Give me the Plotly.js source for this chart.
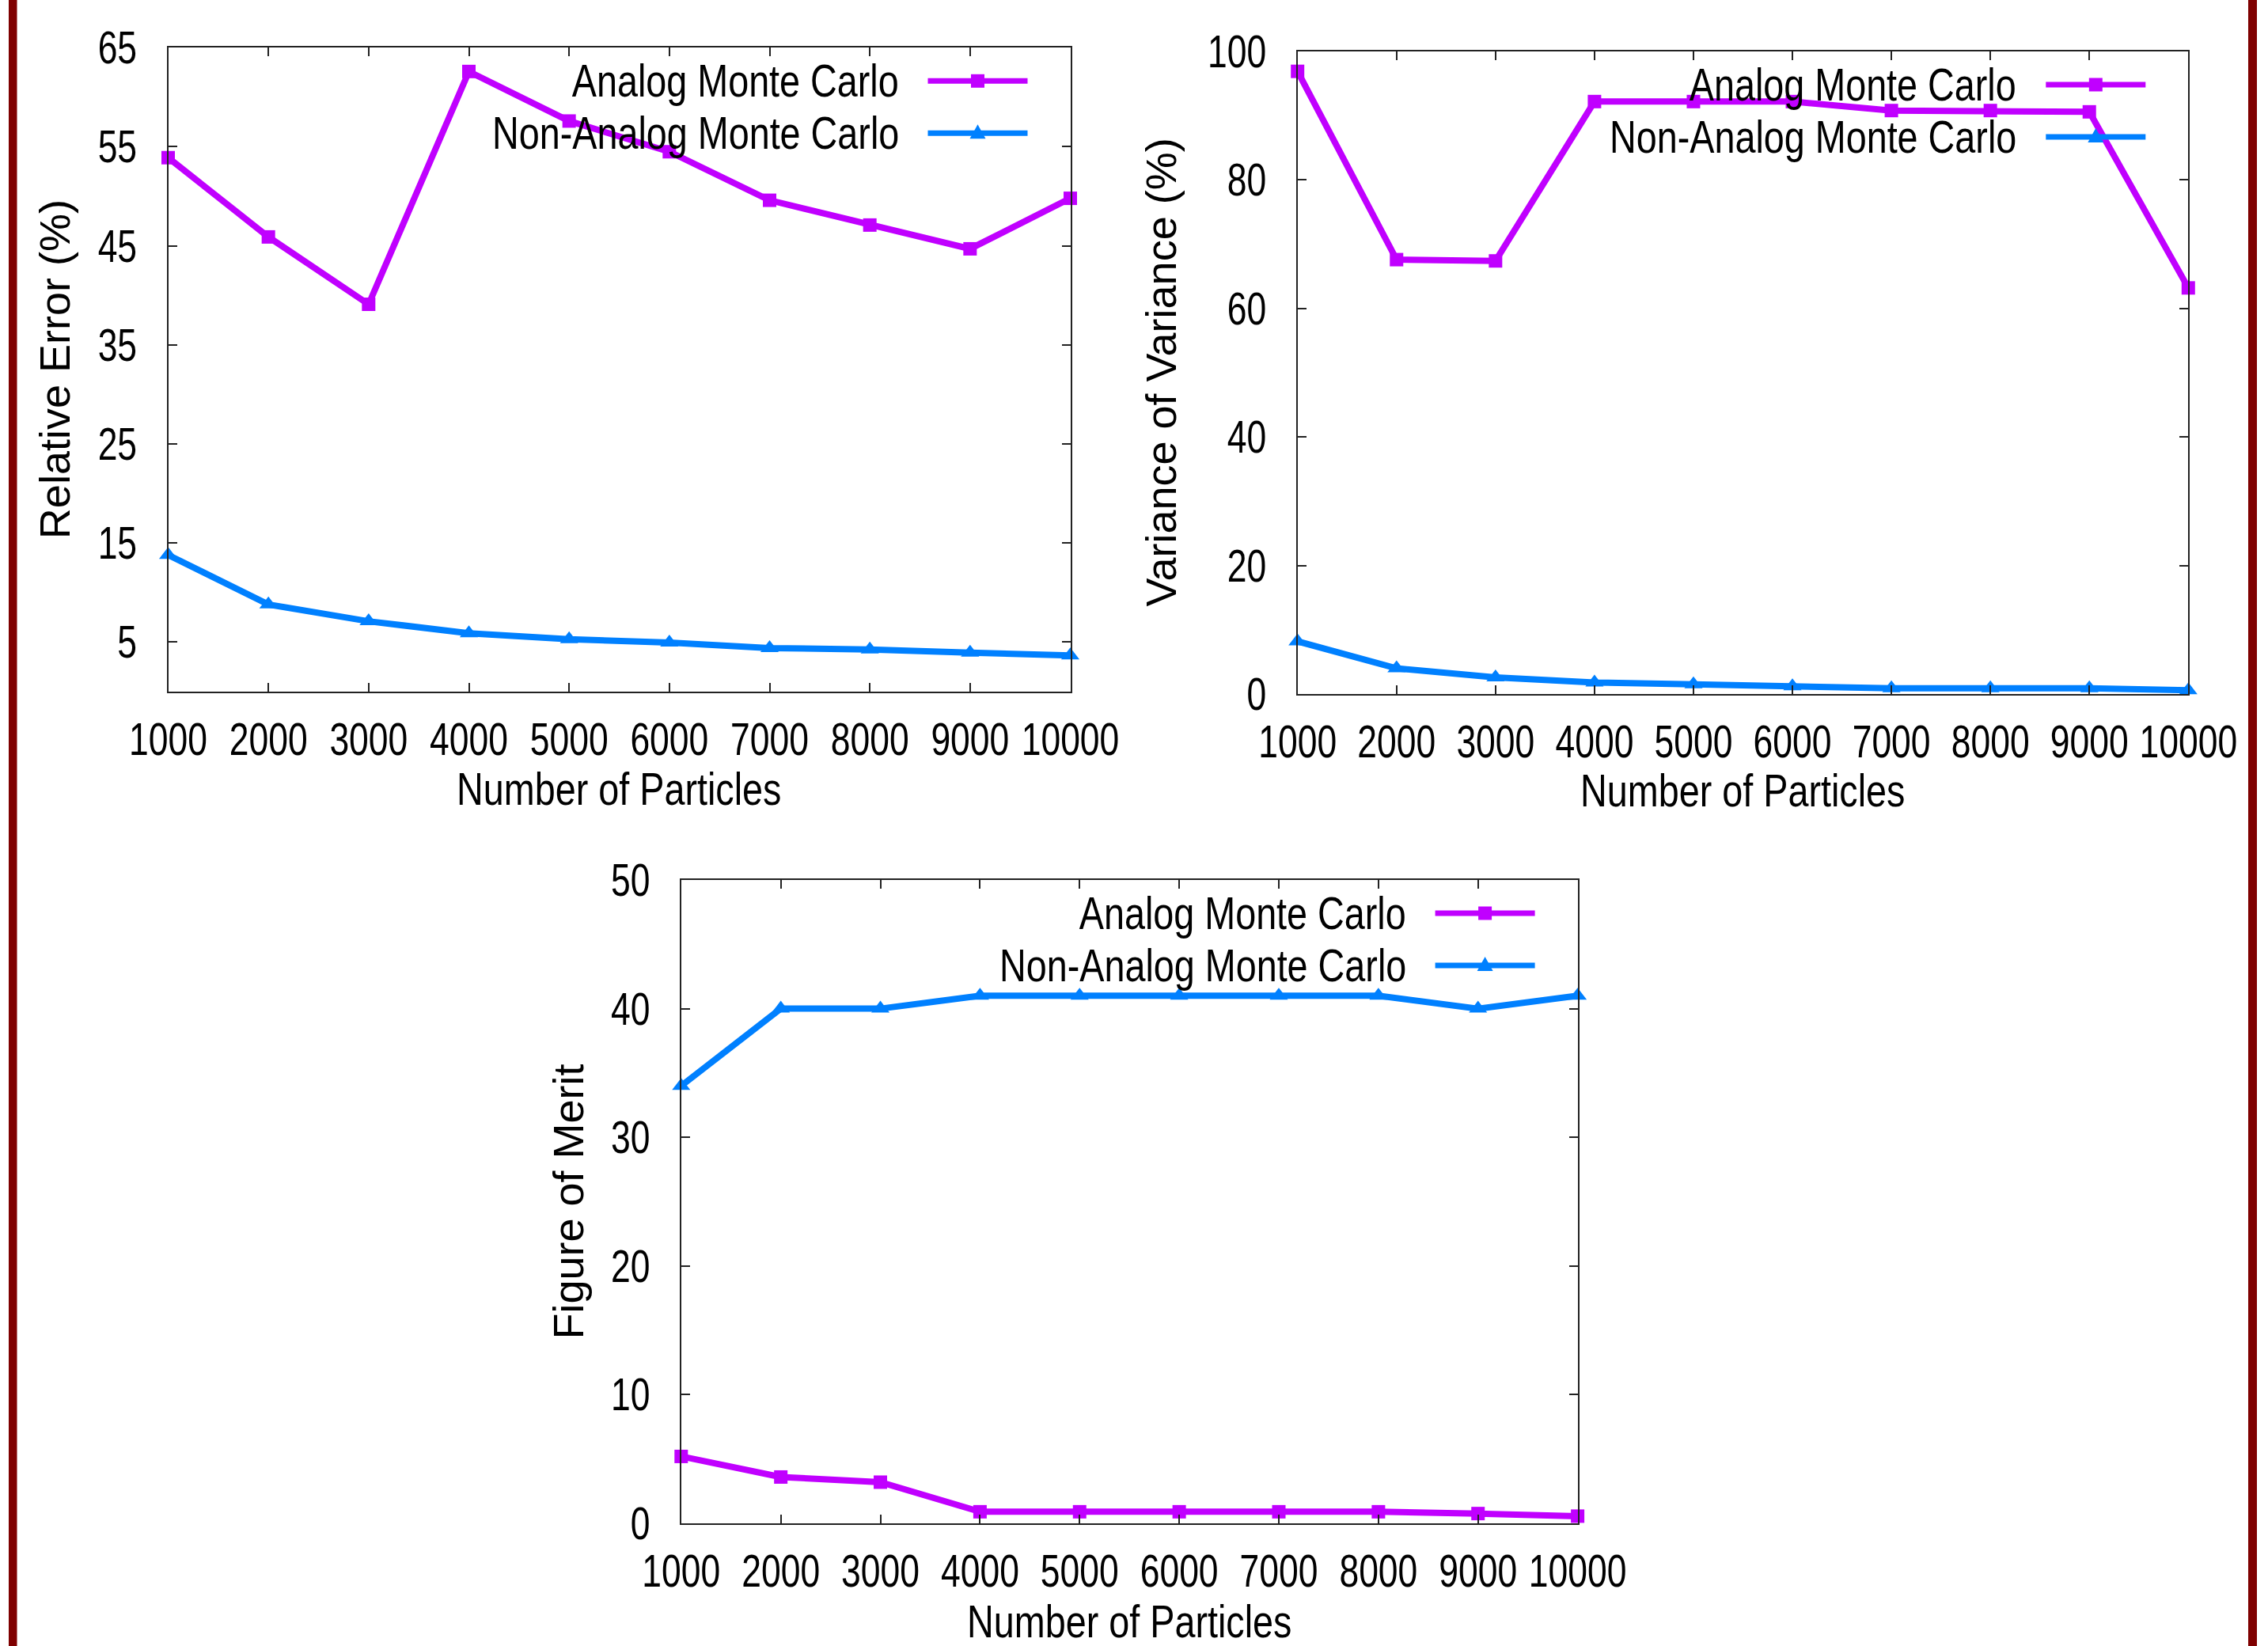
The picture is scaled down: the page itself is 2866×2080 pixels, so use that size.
<!DOCTYPE html>
<html>
<head>
<meta charset="utf-8">
<script src="https://cdn.plot.ly/plotly-3.0.1.min.js"></script>
<style>
html,body{margin:0;padding:0;background:#fff;}
#chart{width:2866px;height:2080px;}
</style>
</head>
<body>
<div id="chart"></div>
<script>
// ---------- data ----------
const particles = [1000, 2000, 3000, 4000, 5000, 6000, 7000, 8000, 9000, 10000];
const xTickLabels = ['1000','2000','3000','4000','5000','6000','7000','8000','9000','10000'];
const seriesNames = ['Analog Monte Carlo', 'Non-Analog Monte Carlo'];

const relErrAnalog    = [53.9, 45.9, 39.1, 62.6, 57.6, 54.5, 49.6, 47.1, 44.7, 49.8];
const relErrNonAnalog = [13.8, 8.8, 7.1, 5.9, 5.3, 4.95, 4.4, 4.25, 3.93, 3.66];

const vovAnalog    = [96.9, 67.6, 67.4, 92.2, 92.2, 92.2, 90.8, 90.8, 90.6, 63.2];
const vovNonAnalog = [8.2, 4.0, 2.6, 1.8, 1.5, 1.2, 0.9, 0.9, 0.9, 0.6];

const fomAnalog    = [5.2, 3.6, 3.2, 0.9, 0.9, 0.9, 0.9, 0.9, 0.76, 0.56];
const fomNonAnalog = [34, 40, 40, 41, 41, 41, 41, 41, 40, 41];

const relErrTicks = [5, 15, 25, 35, 45, 55, 65];
const vovTicks    = [0, 20, 40, 60, 80, 100];
const fomTicks    = [0, 10, 20, 30, 40, 50];

const yTitles = ['Relative Error (%)', 'Variance of Variance (%)', 'Figure of Merit'];
const xTitle = 'Number of Particles';

// ---------- styling ----------
const W = 2866, H = 2080;
const PURPLE = '#c000ff', BLUE = '#0080ff', FRAME = '#222222', MAROON = '#7f0000';
const NARROW = '"Liberation Sans", Arial, sans-serif';
const REGULAR = '"Liberation Sans", Arial, sans-serif';

// panel frames in pixels
const panels = [
  {l: 212.5, r: 1352.5, t: 60.3, b: 874, range: [0, 65], ticks: relErrTicks, a: relErrAnalog, n: relErrNonAnalog, ytx: 69,   xty: 997},
  {l: 1639.7, r: 2765.3, t: 65, b: 877, range: [0, 100], ticks: vovTicks, a: vovAnalog, n: vovNonAnalog, ytx: 1466.6, xty: 999},
  {l: 860.8, r: 1993.6, t: 1112, b: 1925, range: [0, 50], ticks: fomTicks, a: fomAnalog, n: fomNonAnalog, ytx: 717, xty: 2049}
];

const px = v => v / W;
const py = v => 1 - v / H;

const traces = [];
const layout = {
  width: W, height: H,
  margin: {l: 0, r: 0, t: 0, b: 0, pad: 0},
  paper_bgcolor: '#ffffff', plot_bgcolor: '#ffffff',
  showlegend: false,
  annotations: [], shapes: []
};

panels.forEach((p, i) => {
  const k = i === 0 ? '' : String(i + 1);
  const common = {
    showline: true, mirror: 'ticks', linecolor: FRAME, linewidth: 2,
    ticks: 'inside', ticklen: 11, tickwidth: 2, tickcolor: FRAME,
    showgrid: false, zeroline: false, fixedrange: true, tickangle: 0,
    tickfont: {family: NARROW, size: 57, color: '#000'}
  };
  layout['xaxis' + k] = Object.assign({}, common, {
    domain: [px(p.l), px(p.r)], anchor: 'y' + k,
    range: [1000, 10000], tickmode: 'array', tickvals: particles, ticktext: xTickLabels,
    ticklabelstandoff: 10
  });
  layout['yaxis' + k] = Object.assign({}, common, {
    domain: [py(p.b), py(p.t)], anchor: 'x' + k,
    range: p.range, tickmode: 'array', tickvals: p.ticks, ticktext: p.ticks.map(String),
    ticklabelstandoff: 26
  });

  traces.push({
    x: particles, y: p.a, xaxis: 'x' + k, yaxis: 'y' + k, name: seriesNames[0],
    mode: 'lines+markers', cliponaxis: false,
    line: {color: PURPLE, width: 8},
    marker: {symbol: 'square', size: 17, color: PURPLE}
  });
  traces.push({
    x: particles, y: p.n, xaxis: 'x' + k, yaxis: 'y' + k, name: seriesNames[1],
    mode: 'lines+markers', cliponaxis: false,
    line: {color: BLUE, width: 8},
    marker: {symbol: 'triangle-up', size: 20, color: BLUE}
  });

  // axis titles
  layout.annotations.push({
    xref: 'paper', yref: 'paper', x: px(p.ytx), y: py((p.t + p.b) / 2),
    xanchor: 'center', yanchor: 'middle', textangle: -90, showarrow: false,
    text: yTitles[i], font: {family: REGULAR, size: 54, color: '#000'}
  });
  layout.annotations.push({
    xref: 'paper', yref: 'paper', x: px((p.l + p.r) / 2), y: py(p.xty),
    xanchor: 'center', yanchor: 'middle', showarrow: false,
    text: xTitle, font: {family: NARROW, size: 57, color: '#000'}
  });

  // key (gnuplot style: text, then sample)
  const rows = [p.t + 42, p.t + 108];
  const colors = [PURPLE, BLUE];
  rows.forEach((ry, j) => {
    layout.annotations.push({
      xref: 'paper', yref: 'paper', x: px(p.r - 215), y: py(ry),
      xanchor: 'right', yanchor: 'middle', showarrow: false,
      text: seriesNames[j], font: {family: NARROW, size: 57, color: '#000'}
    });
    layout.shapes.push({
      type: 'line', xref: 'paper', yref: 'paper',
      x0: px(p.r - 180), x1: px(p.r - 54), y0: py(ry), y1: py(ry),
      line: {color: colors[j], width: 7}
    });
    const cx = p.r - 117;
    if (j === 0) {
      layout.shapes.push({
        type: 'rect', xref: 'paper', yref: 'paper',
        x0: px(cx - 8.5), x1: px(cx + 8.5), y0: py(ry + 8.5), y1: py(ry - 8.5),
        fillcolor: colors[j], line: {width: 0}
      });
    } else {
      const path = 'M ' + px(cx - 10) + ' ' + py(ry + 7) + ' L ' + px(cx + 10) + ' ' + py(ry + 7) +
                   ' L ' + px(cx) + ' ' + py(ry - 11) + ' Z';
      layout.shapes.push({
        type: 'path', xref: 'paper', yref: 'paper', path: path,
        fillcolor: colors[j], line: {width: 0}
      });
    }
  });
});

// page side borders
layout.shapes.push({type: 'rect', xref: 'paper', yref: 'paper', x0: px(11), x1: px(21.5), y0: 0, y1: 1,
  fillcolor: MAROON, line: {width: 0}, layer: 'above'});
layout.shapes.push({type: 'rect', xref: 'paper', yref: 'paper', x0: px(2841), x1: px(2852), y0: 0, y1: 1,
  fillcolor: MAROON, line: {width: 0}, layer: 'above'});

// horizontally condense text (the reference uses a narrow face)
function condense(el, s, mode) {
  const bb = el.getBBox();
  let ox = bb.x + bb.width / 2;
  if (mode === 'end') ox = bb.x + bb.width;
  else if (mode === 'start') ox = bb.x;
  const prev = el.getAttribute('transform') || '';
  el.setAttribute('transform', prev + ' translate(' + ox + ',0) scale(' + s + ',1) translate(' + (-ox) + ',0)');
}

const gd = document.getElementById('chart');
Plotly.newPlot(gd, traces, layout, {displayModeBar: false, staticPlot: true}).then(() => {
  gd.querySelectorAll('.xtick text, .x2tick text, .x3tick text').forEach(t => condense(t, 0.78, 'middle'));
  gd.querySelectorAll('.ytick text, .y2tick text, .y3tick text').forEach(t => condense(t, 0.78, 'end'));
  gd.querySelectorAll('.annotation').forEach(a => {
    const idx = parseInt(a.getAttribute('data-index'), 10);
    const t = a.querySelector('text');
    if (!t) return;
    const role = idx % 4;
    if (role === 1) condense(t, 0.82, 'middle');
    else if (role >= 2) condense(t, 0.82, 'end');
  });
});
</script>
</body>
</html>
